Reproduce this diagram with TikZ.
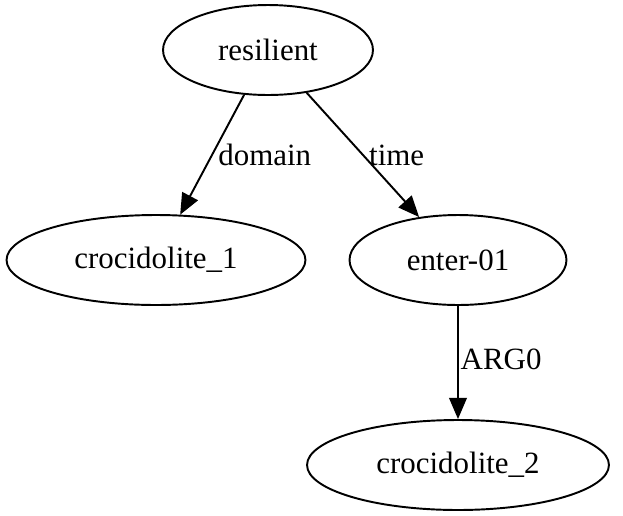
\documentclass[tikz,border=0pt]{standalone}
\usepackage{fontspec}
\setmainfont{Liberation Serif}
\usetikzlibrary{arrows.meta, shapes.geometric}
\tikzset{
  every picture/.style={line width=1.1pt, x=0.02cm, y=-0.02cm},
  concept/.style={ellipse, draw=black, inner sep=0pt, minimum height=1.8cm, font=\fontsize{17.6}{20}\selectfont},
  rel/.style={-{Triangle[length=12pt, width=10pt]}, draw=black},
  role/.style={font=\fontsize{17.6}{20}\selectfont, anchor=west, inner sep=1pt},
}
\begin{document}
\begin{tikzpicture}
  \useasboundingbox (0,0) rectangle (623,515);
  \node[concept, minimum width=4.2cm] (resilient) at (268,50) {resilient};
  \node[concept, minimum width=5.98cm] (croc1) at (156,260) {crocidolite\_1};
  \node[concept, minimum width=4.34cm] (enter) at (458,260) {enter-01};
  \node[concept, minimum width=6.04cm] (croc2) at (458,465) {crocidolite\_2};
  \draw[rel] (resilient) -- node[role, xshift=2pt] {domain} (croc1);
  \draw[rel] (resilient) -- node[role, xshift=2pt] {time} (enter);
  \draw[rel] (enter) -- node[role, yshift=2pt] {ARG0} (croc2);
\end{tikzpicture}
\end{document}
